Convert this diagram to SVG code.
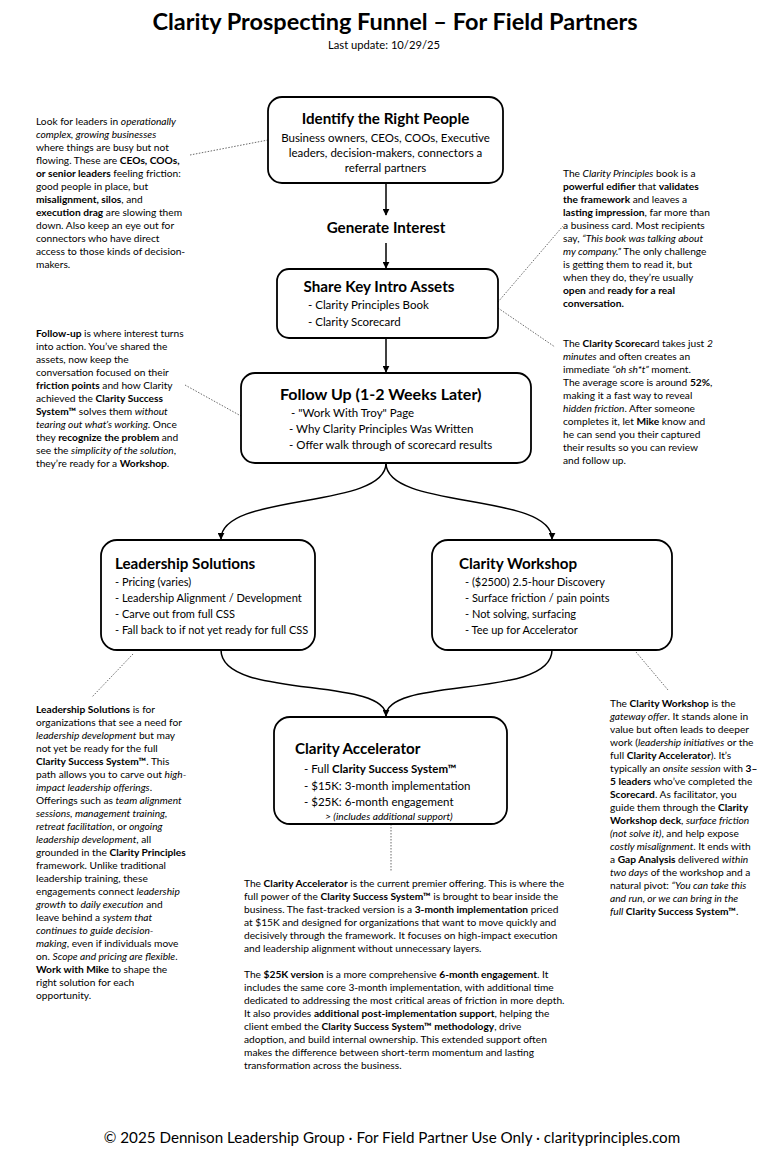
<svg xmlns="http://www.w3.org/2000/svg" width="768" height="1165" viewBox="0 0 768 1165">
<defs>
<style>
text{font-family:"Lato","Liberation Sans",sans-serif;fill:#000}
.title{font-size:23.5px;font-weight:700}
.sub{font-size:11.2px}
.nt{font-size:15.2px;font-weight:700}
.nt2{font-size:16px;font-weight:700}
.nb{font-size:11.5px}
.nb2{font-size:11px}
.a{font-size:10.2px}
.b{font-weight:700}
.i{font-style:italic}
.sm{font-size:10.2px;font-style:italic}
.foot{font-size:15.2px}
.box{fill:#fff;stroke:#000;stroke-width:1.8}
.arr{fill:none;stroke:#000;stroke-width:1.5}
.dot{fill:none;stroke:#444;stroke-width:0.8;stroke-dasharray:1.5 1.5}
</style>
<marker id="ah" viewBox="0 0 10 10" refX="9" refY="5" markerWidth="7" markerHeight="7" orient="auto" markerUnits="userSpaceOnUse">
<path d="M0,0 L10,5 L0,10 z" fill="#000"/>
</marker>
</defs>
<rect width="768" height="1165" fill="#fff"/>
<g id="header">
<text class="title" x="395" y="30" text-anchor="middle">Clarity Prospecting Funnel – For Field Partners</text>
<text class="sub" x="384" y="49" text-anchor="middle">Last update: 10/29/25</text>
</g>
<g id="connectors">
<line class="arr" x1="386" y1="183" x2="386" y2="215" marker-end="url(#ah)"/>
<line class="arr" x1="386" y1="243" x2="386" y2="268" marker-end="url(#ah)"/>
<line class="arr" x1="386" y1="338" x2="386" y2="372" marker-end="url(#ah)"/>
<path class="arr" d="M386,463 C386,510 221,492 221,539" marker-end="url(#ah)"/>
<path class="arr" d="M386,463 C386,510 552,492 552,539" marker-end="url(#ah)"/>
<path class="arr" d="M221,650 C221,700 386,676 386,716" marker-end="url(#ah)"/>
<path class="arr" d="M552,650 C552,700 386,676 386,716"/>
<line class="dot" x1="190" y1="155" x2="268" y2="140"/>
<line class="dot" x1="498" y1="302" x2="563" y2="226"/>
<line class="dot" x1="498" y1="308" x2="555" y2="347"/>
<line class="dot" x1="185" y1="385" x2="241" y2="416"/>
<line class="dot" x1="133" y1="654" x2="92" y2="697"/>
<line class="dot" x1="636" y1="652" x2="668" y2="690"/>
<line class="dot" x1="391" y1="824" x2="391" y2="872"/>
</g>
<g id="identify">
<rect class="box" x="268" y="97" width="235" height="86" rx="14"/>
<text class="nt" x="385.5" y="124" text-anchor="middle">Identify the Right People</text>
<text class="nb" x="385.5" y="141.5" text-anchor="middle">Business owners, CEOs, COOs, Executive</text>
<text class="nb" x="385.5" y="156.5" text-anchor="middle">leaders, decision-makers, connectors a</text>
<text class="nb" x="385.5" y="171.5" text-anchor="middle">referral partners</text>
</g>
<g id="generate">
<text class="nt" x="386" y="233" text-anchor="middle">Generate Interest</text>
</g>
<g id="share">
<rect class="box" x="277" y="269" width="221" height="69" rx="12"/>
<text class="nt" x="379" y="292" text-anchor="middle">Share Key Intro Assets</text>
<text class="nb" x="308" y="309">- Clarity Principles Book</text>
<text class="nb" x="308" y="326">- Clarity Scorecard</text>
</g>
<g id="followup">
<rect class="box" x="241" y="373" width="290" height="90" rx="14"/>
<text class="nt2" x="280" y="400">Follow Up (1-2 Weeks Later)</text>
<text class="nb" x="291" y="417">- "Work With Troy" Page</text>
<text class="nb" x="289" y="433">- Why Clarity Principles Was Written</text>
<text class="nb" x="289" y="449">- Offer walk through of scorecard results</text>
</g>
<g id="leadership">
<rect class="box" x="101" y="540" width="214" height="110" rx="16"/>
<text class="nt" x="115" y="569">Leadership Solutions</text>
<text class="nb2" x="115" y="586">- Pricing (varies)</text>
<text class="nb2" x="115" y="602">- Leadership Alignment / Development</text>
<text class="nb2" x="115" y="618">- Carve out from full CSS</text>
<text class="nb2" x="115" y="634">- Fall back to if not yet ready for full CSS</text>
</g>
<g id="workshop">
<rect class="box" x="432" y="540" width="240" height="110" rx="16"/>
<text class="nt" x="459" y="569">Clarity Workshop</text>
<text class="nb2" x="465" y="586">- ($2500) 2.5-hour Discovery</text>
<text class="nb2" x="465" y="602">- Surface friction / pain points</text>
<text class="nb2" x="465" y="618">- Not solving, surfacing</text>
<text class="nb2" x="465" y="634">- Tee up for Accelerator</text>
</g>
<g id="accelerator">
<rect class="box" x="274" y="717" width="233" height="107" rx="16"/>
<text class="nt" x="295" y="754">Clarity Accelerator</text>
<text class="nb" x="304" y="773">- Full <tspan class="b">Clarity Success System™</tspan></text>
<text class="nb" x="304" y="790">- $15K: 3-month implementation</text>
<text class="nb" x="304" y="806">- $25K: 6-month engagement</text>
<text class="sm" x="325" y="820">&gt; (includes additional support)</text>
</g>
<g id="note-identify" class="a">
<text x="36" y="125">Look for leaders in <tspan class="i">operationally</tspan></text>
<text x="36" y="138"><tspan class="i">complex, growing businesses</tspan></text>
<text x="36" y="151">where things are busy but not</text>
<text x="36" y="164">flowing. These are <tspan class="b">CEOs, COOs,</tspan></text>
<text x="36" y="177"><tspan class="b">or senior leaders</tspan> feeling friction:</text>
<text x="36" y="190">good people in place, but</text>
<text x="36" y="203"><tspan class="b">misalignment, silos</tspan>, and</text>
<text x="36" y="216"><tspan class="b">execution drag</tspan> are slowing them</text>
<text x="36" y="229">down. Also keep an eye out for</text>
<text x="36" y="242">connectors who have direct</text>
<text x="36" y="255">access to those kinds of decision-</text>
<text x="36" y="268">makers.</text>
</g>
<g id="note-book" class="a">
<text x="563" y="177">The <tspan class="i">Clarity Principles</tspan> book is a</text>
<text x="563" y="190"><tspan class="b">powerful edifier</tspan> that <tspan class="b">validates</tspan></text>
<text x="563" y="203"><tspan class="b">the framework</tspan> and leaves a</text>
<text x="563" y="216"><tspan class="b">lasting impression</tspan>, far more than</text>
<text x="563" y="229">a business card. Most recipients</text>
<text x="563" y="242">say, <tspan class="i">“This book was talking about</tspan></text>
<text x="563" y="255"><tspan class="i">my company.”</tspan> The only challenge</text>
<text x="563" y="268">is getting them to read it, but</text>
<text x="563" y="281">when they do, they’re usually</text>
<text x="563" y="294"><tspan class="b">open</tspan> and <tspan class="b">ready for a real</tspan></text>
<text x="563" y="307"><tspan class="b">conversation.</tspan></text>
</g>
<g id="note-scorecard" class="a">
<text x="563" y="347">The <tspan class="b">Clarity Scoreca</tspan>rd takes just <tspan class="i">2</tspan></text>
<text x="563" y="360"><tspan class="i">minutes</tspan> and often creates an</text>
<text x="563" y="373">immediate <tspan class="i">“oh sh*t”</tspan> moment.</text>
<text x="563" y="386">The average score is around <tspan class="b">52%</tspan>,</text>
<text x="563" y="399">making it a fast way to reveal</text>
<text x="563" y="412"><tspan class="i">hidden friction</tspan>. After someone</text>
<text x="563" y="425">completes it, let <tspan class="b">Mike</tspan> know and</text>
<text x="563" y="438">he can send you their captured</text>
<text x="563" y="451">their results so you can review</text>
<text x="563" y="464">and follow up.</text>
</g>
<g id="note-followup" class="a">
<text x="36" y="337"><tspan class="b">Follow-up</tspan> is where interest turns</text>
<text x="36" y="350">into action. You’ve shared the</text>
<text x="36" y="363">assets, now keep the</text>
<text x="36" y="376">conversation focused on their</text>
<text x="36" y="389"><tspan class="b">friction points</tspan> and how Clarity</text>
<text x="36" y="402">achieved the <tspan class="b">Clarity Success</tspan></text>
<text x="36" y="415"><tspan class="b">System™</tspan> solves them <tspan class="i">without</tspan></text>
<text x="36" y="428"><tspan class="i">tearing out what’s working</tspan>. Once</text>
<text x="36" y="441">they <tspan class="b">recognize the problem</tspan> and</text>
<text x="36" y="454">see the <tspan class="i">simplicity of the solution</tspan>,</text>
<text x="36" y="467">they’re ready for a <tspan class="b">Workshop</tspan>.</text>
</g>
<g id="note-leadership" class="a">
<text x="36" y="713"><tspan class="b">Leadership Solutions</tspan> is for</text>
<text x="36" y="726">organizations that see a need for</text>
<text x="36" y="739"><tspan class="i">leadership development</tspan> but may</text>
<text x="36" y="752">not yet be ready for the full</text>
<text x="36" y="765"><tspan class="b">Clarity Success System™</tspan>. This</text>
<text x="36" y="778">path allows you to carve out <tspan class="i">high-</tspan></text>
<text x="36" y="791"><tspan class="i">impact leadership offerings</tspan>.</text>
<text x="36" y="804">Offerings such as <tspan class="i">team alignment</tspan></text>
<text x="36" y="817"><tspan class="i">sessions, management training,</tspan></text>
<text x="36" y="830"><tspan class="i">retreat facilitation</tspan>, or <tspan class="i">ongoing</tspan></text>
<text x="36" y="843"><tspan class="i">leadership development</tspan>, all</text>
<text x="36" y="856">grounded in the <tspan class="b">Clarity Principles</tspan></text>
<text x="36" y="869">framework. Unlike traditional</text>
<text x="36" y="882">leadership training, these</text>
<text x="36" y="895">engagements connect <tspan class="i">leadership</tspan></text>
<text x="36" y="908"><tspan class="i">growth</tspan> to <tspan class="i">daily execution</tspan> and</text>
<text x="36" y="921">leave behind a <tspan class="i">system that</tspan></text>
<text x="36" y="934"><tspan class="i">continues to guide decision-</tspan></text>
<text x="36" y="947"><tspan class="i">making</tspan>, even if individuals move</text>
<text x="36" y="960">on. <tspan class="i">Scope and pricing are flexible</tspan>.</text>
<text x="36" y="973"><tspan class="b">Work with Mike</tspan> to shape the</text>
<text x="36" y="986">right solution for each</text>
<text x="36" y="999">opportunity.</text>
</g>
<g id="note-workshop" class="a">
<text x="610" y="707">The <tspan class="b">Clarity Workshop</tspan> is the</text>
<text x="610" y="720"><tspan class="i">gateway offer</tspan>. It stands alone in</text>
<text x="610" y="733">value but often leads to deeper</text>
<text x="610" y="746">work (<tspan class="i">leadership initiatives</tspan> or the</text>
<text x="610" y="759">full <tspan class="b">Clarity Accelerator</tspan>). It’s</text>
<text x="610" y="772">typically an <tspan class="i">onsite session</tspan> with <tspan class="b">3–</tspan></text>
<text x="610" y="785"><tspan class="b">5 leaders</tspan> who’ve completed the</text>
<text x="610" y="798"><tspan class="b">Scorecard</tspan>. As facilitator, you</text>
<text x="610" y="811">guide them through the <tspan class="b">Clarity</tspan></text>
<text x="610" y="824"><tspan class="b">Workshop deck</tspan>, <tspan class="i">surface friction</tspan></text>
<text x="610" y="837"><tspan class="i">(not solve it)</tspan>, and help expose</text>
<text x="610" y="850"><tspan class="i">costly misalignment</tspan>. It ends with</text>
<text x="610" y="863">a <tspan class="b">Gap Analysis</tspan> delivered <tspan class="i">within</tspan></text>
<text x="610" y="876"><tspan class="i">two days</tspan> of the workshop and a</text>
<text x="610" y="889">natural pivot: <tspan class="i">“You can take this</tspan></text>
<text x="610" y="902"><tspan class="i">and run, or we can bring in the</tspan></text>
<text x="610" y="915"><tspan class="i">full</tspan> <tspan class="b">Clarity Success System™</tspan>.</text>
</g>
<g id="note-accelerator" class="a">
<text x="244" y="887">The <tspan class="b">Clarity Accelerator</tspan> is the current premier offering. This is where the</text>
<text x="244" y="900">full power of the <tspan class="b">Clarity Success System™</tspan> is brought to bear inside the</text>
<text x="244" y="913">business. The fast-tracked version is a <tspan class="b">3-month implementation</tspan> priced</text>
<text x="244" y="926">at $15K and designed for organizations that want to move quickly and</text>
<text x="244" y="939">decisively through the framework. It focuses on high-impact execution</text>
<text x="244" y="952">and leadership alignment without unnecessary layers.</text>
<text x="244" y="978">The <tspan class="b">$25K version</tspan> is a more comprehensive <tspan class="b">6-month engagement</tspan>. It</text>
<text x="244" y="991">includes the same core 3-month implementation, with additional time</text>
<text x="244" y="1004">dedicated to addressing the most critical areas of friction in more depth.</text>
<text x="244" y="1017">It also provides <tspan class="b">additional post-implementation support</tspan>, helping the</text>
<text x="244" y="1030">client embed the <tspan class="b">Clarity Success System™ methodology</tspan>, drive</text>
<text x="244" y="1043">adoption, and build internal ownership. This extended support often</text>
<text x="244" y="1056">makes the difference between short-term momentum and lasting</text>
<text x="244" y="1069">transformation across the business.</text>
</g>
<g id="footer">
<text class="foot" x="392" y="1143" text-anchor="middle">© 2025 Dennison Leadership Group · For Field Partner Use Only · clarityprinciples.com</text>
</g>
</svg>
